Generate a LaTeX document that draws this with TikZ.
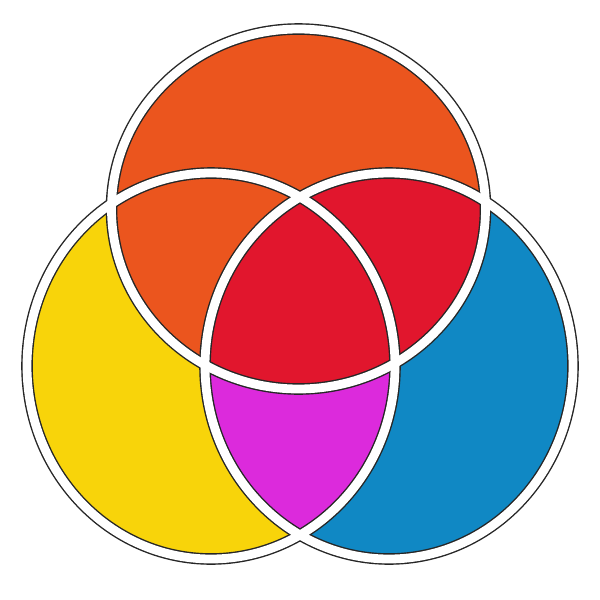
\documentclass[tikz,border=0pt]{standalone}
\definecolor{orng}{HTML}{EB551E}
\definecolor{rd}{HTML}{E1162D}
\definecolor{ylw}{HTML}{F8D40A}
\definecolor{blu}{HTML}{1088C4}
\definecolor{mgt}{HTML}{DC2ADC}
\begin{document}
\begin{tikzpicture}[x=0.05cm,y=-0.05cm,
  blackedge/.style={draw=black!85,line width=16.5pt},
  whiteband/.style={draw=white,line width=12.5pt}]
\useasboundingbox (0,0) rectangle (600,600);
\fill[white] (0,0) rectangle (600,600);
\coordinate (T) at (298.5,209);
\coordinate (L) at (211,366);
\coordinate (R) at (389,366);
\def\topshape{(T) ellipse [x radius=187, y radius=180]}
\def\leftshape{(L) ellipse [x radius=184, y radius=193]}
\def\rightshape{(R) ellipse [x radius=184, y radius=193]}
% fills
\fill[ylw] \leftshape;
\fill[blu] \rightshape;
\begin{scope}
  \clip \leftshape;
  \fill[mgt] \rightshape;
\end{scope}
\fill[orng] \topshape;
\begin{scope}
  \clip \topshape;
  \fill[rd] \rightshape;
\end{scope}
% borders
\path[blackedge] \topshape;
\path[blackedge] \leftshape;
\path[blackedge] \rightshape;
\path[whiteband] \topshape;
\path[whiteband] \leftshape;
\path[whiteband] \rightshape;
\end{tikzpicture}
\end{document}
